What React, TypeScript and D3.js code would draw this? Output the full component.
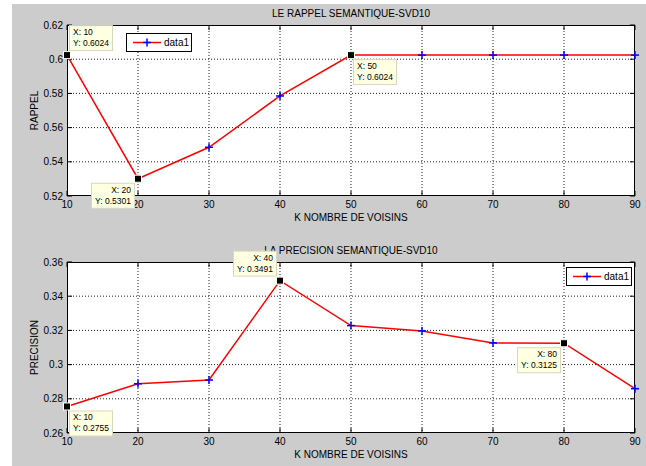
import React from "react";
import * as d3 from "d3";

// Neighbour counts (K) shared by both panels
const kValues = [10, 20, 30, 40, 50, 60, 70, 80, 90];
// Semantic recall for SVD10
const rappel = [0.6024, 0.5301, 0.5485, 0.5785, 0.6024, 0.6024, 0.6024, 0.6024, 0.6024];
// Semantic precision for SVD10
const precision = [0.2755, 0.2888, 0.291, 0.3491, 0.3228, 0.3197, 0.3127, 0.3125, 0.2859];

const xTicks = [10, 20, 30, 40, 50, 60, 70, 80, 90];
const rappelTicks = [0.52, 0.54, 0.56, 0.58, 0.6, 0.62];
const precisionTicks = [0.26, 0.28, 0.3, 0.32, 0.34, 0.36];

// Data cursors: index into the series and which side of the point the box sits
const rappelTips = [
  { i: 0, place: "ne" },
  { i: 1, place: "sw" },
  { i: 4, place: "se" },
];
const precisionTips = [
  { i: 0, place: "se" },
  { i: 3, place: "nw" },
  { i: 7, place: "sw" },
];

const W = 646;
const H = 466;
const FONT = "'Liberation Sans', Arial, Helvetica, sans-serif";

type Tip = { i: number; place: string };

function fmt(v: number) {
  return String(+v.toFixed(2));
}

function Panel(props: {
  top: number;
  bottom: number;
  values: number[];
  yTicks: number[];
  title: string;
  yLabel: string;
  tips: Tip[];
  legend: { x: number; y: number };
}) {
  const { top, bottom, values, yTicks, title, yLabel, tips, legend } = props;
  const left = 67;
  const right = 635;
  const x = d3.scaleLinear().domain([10, 90]).range([left, right]);
  const y = d3
    .scaleLinear()
    .domain([yTicks[0], yTicks[yTicks.length - 1]])
    .range([bottom, top]);
  const line = d3
    .line<number>()
    .x((_, i) => x(kValues[i]))
    .y((d) => y(d));
  const tl = 5;

  return (
    <g>
      <rect x={left} y={top} width={right - left} height={bottom - top} fill="#ffffff" />
      {/* dotted grid */}
      {xTicks.slice(1, -1).map((t) => (
        <line key={"gx" + t} x1={x(t)} x2={x(t)} y1={top} y2={bottom} stroke="#222" strokeWidth={1} strokeDasharray="1,2" />
      ))}
      {yTicks.slice(1, -1).map((t) => (
        <line key={"gy" + t} x1={left} x2={right} y1={y(t)} y2={y(t)} stroke="#222" strokeWidth={1} strokeDasharray="1,2" />
      ))}
      {/* ticks on all four sides */}
      {xTicks.map((t) => (
        <g key={"tx" + t}>
          <line x1={x(t)} x2={x(t)} y1={bottom} y2={bottom - tl} stroke="#000" />
          <line x1={x(t)} x2={x(t)} y1={top} y2={top + tl} stroke="#000" />
          <text x={x(t)} y={bottom + 11.5} textAnchor="middle" fontSize={10} fontFamily={FONT} fill="#000">
            {t}
          </text>
        </g>
      ))}
      {yTicks.map((t) => (
        <g key={"ty" + t}>
          <line x1={left} x2={left + tl} y1={y(t)} y2={y(t)} stroke="#000" />
          <line x1={right} x2={right - tl} y1={y(t)} y2={y(t)} stroke="#000" />
          <text x={left - 4} y={y(t) + 3.5} textAnchor="end" fontSize={10} fontFamily={FONT} fill="#000">
            {fmt(t)}
          </text>
        </g>
      ))}
      <rect x={left + 0.5} y={top + 0.5} width={right - left - 1} height={bottom - top - 1} fill="none" stroke="#000" strokeWidth={1} />
      {/* series */}
      <path d={line(values) || ""} fill="none" stroke="#ff0000" strokeWidth={1.5} />
      {values.map((v, i) => (
        <g key={"m" + i} stroke="#0000ff" strokeWidth={1.5}>
          <line x1={x(kValues[i]) - 4} x2={x(kValues[i]) + 4} y1={y(v)} y2={y(v)} />
          <line x1={x(kValues[i])} x2={x(kValues[i])} y1={y(v) - 4} y2={y(v) + 4} />
        </g>
      ))}
      {/* legend */}
      <g>
        <rect x={legend.x + 0.5} y={legend.y + 0.5} width={65} height={18} fill="#fff" stroke="#000" strokeWidth={1} />
        <line x1={legend.x + 7} x2={legend.x + 35} y1={legend.y + 9.5} y2={legend.y + 9.5} stroke="#ff0000" strokeWidth={1.5} />
        <g stroke="#0000ff" strokeWidth={1.5}>
          <line x1={legend.x + 17} x2={legend.x + 25} y1={legend.y + 9.5} y2={legend.y + 9.5} />
          <line x1={legend.x + 21} x2={legend.x + 21} y1={legend.y + 5.5} y2={legend.y + 13.5} />
        </g>
        <text x={legend.x + 38} y={legend.y + 13} fontSize={10} fontFamily={FONT} fill="#000">
          data1
        </text>
      </g>
      {/* labels */}
      <text x={(left + right) / 2} y={top - 8} textAnchor="middle" fontSize={10} fontFamily={FONT} fill="#000">
        {title}
      </text>
      <text x={(left + right) / 2} y={bottom + 25} textAnchor="middle" fontSize={10} fontFamily={FONT} fill="#000">
        K NOMBRE DE VOISINS
      </text>
      <text
        transform={`translate(${38},${(top + bottom) / 2}) rotate(-90)`}
        textAnchor="middle"
        fontSize={10}
        fontFamily={FONT}
        fill="#000"
      >
        {yLabel}
      </text>
      {/* data cursors */}
      {tips.map((tp) => {
        const px = x(kValues[tp.i]);
        const py = y(values[tp.i]);
        const bw = 43;
        const bh = 25;
        const east = tp.place.includes("e");
        const north = tp.place.includes("n");
        const bx = east ? px + 2 : px - 4 - bw;
        const by = north ? py - 5 - bh : py + 4;
        const tx = east ? bx + 4 : bx + bw - 3;
        const anchor = east ? "start" : "end";
        return (
          <g key={"tip" + tp.i}>
            <rect x={bx + 0.5} y={by + 0.5} width={bw} height={bh} fill="#ffffe1" stroke="#d8d8c0" strokeWidth={1} />
            <text x={tx} y={by + 10} textAnchor={anchor} fontSize={8.5} fontFamily={FONT} fill="#000">
              {`X: ${kValues[tp.i]}`}
            </text>
            <text x={tx} y={by + 21} textAnchor={anchor} fontSize={8.5} fontFamily={FONT} fill="#000">
              {`Y: ${values[tp.i].toFixed(4)}`}
            </text>
            <rect x={px - 3.5} y={py - 3.5} width={7} height={7} fill="#000" stroke="#ffffe1" strokeWidth={1} />
          </g>
        );
      })}
    </g>
  );
}

export default function App() {
  return (
    <svg
      width={W}
      height={H}
      style={{ position: "fixed", left: 0, top: 0, display: "block", background: "#ffffff" }}
    >
      <rect x={12} y={4} width={W - 12} height={H - 4} fill="#cccccc" />
      <Panel
        top={25}
        bottom={196}
        values={rappel}
        yTicks={rappelTicks}
        title="LE RAPPEL SEMANTIQUE-SVD10"
        yLabel="RAPPEL"
        tips={rappelTips}
        legend={{ x: 126, y: 33 }}
      />
      <Panel
        top={262}
        bottom={433}
        values={precision}
        yTicks={precisionTicks}
        title="LA PRECISION SEMANTIQUE-SVD10"
        yLabel="PRECISION"
        tips={precisionTips}
        legend={{ x: 566, y: 267 }}
      />
    </svg>
  );
}
